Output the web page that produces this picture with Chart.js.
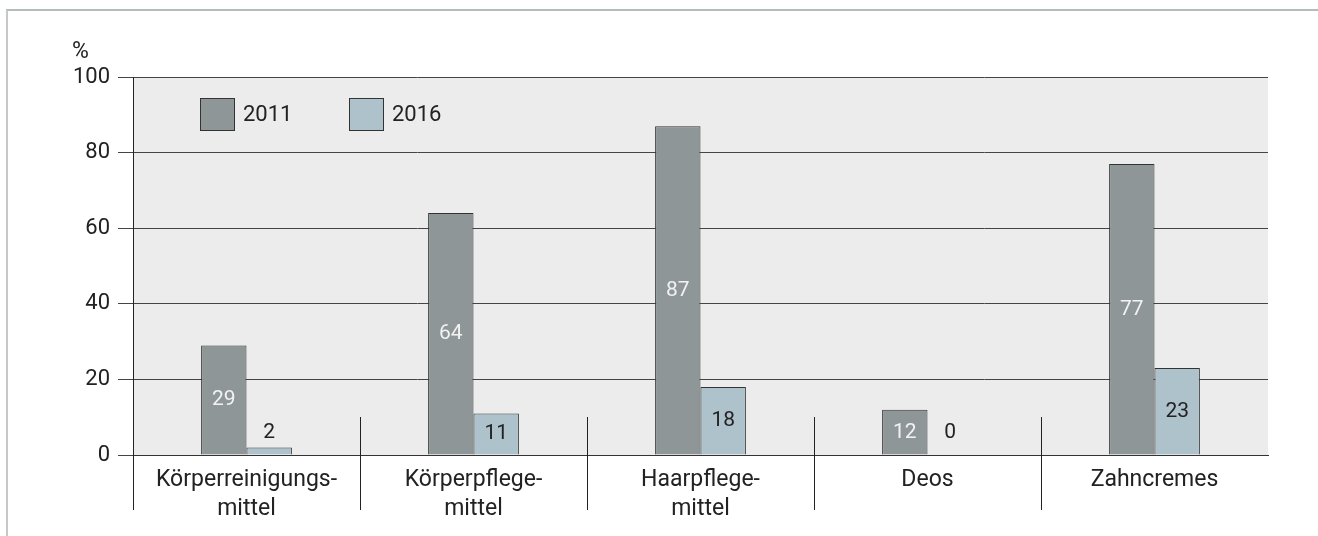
<!DOCTYPE html>
<html>
<head>
<meta charset="utf-8">
<script src="https://cdn.jsdelivr.net/npm/chart.js@4.4.1/dist/chart.umd.min.js"></script>
<style>
  html, body { margin:0; padding:0; background:#fff; }
  #wrap { position:relative; width:1318px; height:536px; overflow:hidden; }
  #frame { position:absolute; left:6px; top:9px; width:1400px; height:600px;
           border-left:2px solid #c6c9c9; border-top:2px solid #b4bbbb; }
  canvas { position:absolute; left:0; top:0; }
</style>
</head>
<body>
<div id="wrap">
  <div id="frame"></div>
  <canvas id="chart" width="1318" height="536"></canvas>
</div>
<script>
// data
const categories = [['Körperreinigungs-','mittel'], ['Körperpflege-','mittel'], ['Haarpflege-','mittel'], 'Deos', 'Zahncremes'];
const years = ['2011', '2016'];
const values2011 = [29, 64, 87, 12, 77];
const values2016 = [2, 11, 18, 0, 23];
const yTicks = [0, 20, 40, 60, 80, 100];
const unitLabel = '%';

const FONT = 'Roboto, "Helvetica Neue", Arial, sans-serif';
const colors = ['#8e9698', '#aec2cb'];
const labelColors = ['#f2f2f2', '#222'];

// grey plot background
const plotBg = {
  id:'plotBg',
  beforeDraw(chart){
    const {ctx, chartArea:a} = chart;
    ctx.save();
    ctx.fillStyle = '#ececec';
    ctx.fillRect(a.left, a.top, a.right - a.left, a.bottom - a.top);
    ctx.restore();
  }
};

// category separators, unit label, legend and value labels
const extras = {
  id:'extras',
  afterDraw(chart){
    const {ctx, chartArea:a, scales} = chart;
    const x = scales.x, y = scales.y;
    const step = x.getPixelForValue(1) - x.getPixelForValue(0);
    ctx.save();
    ctx.strokeStyle = '#222';
    ctx.lineWidth = 1;
    for(let i = 0; i < categories.length; i++){
      const px = Math.round(x.getPixelForValue(i) - step / 2) + 0.5;
      ctx.beginPath();
      ctx.moveTo(px, y.getPixelForValue(0) - 38);
      ctx.lineTo(px, y.getPixelForValue(0) + 55);
      ctx.stroke();
    }

    ctx.fillStyle = '#222';
    ctx.font = '23px ' + FONT;
    ctx.textAlign = 'left';
    ctx.textBaseline = 'middle';
    ctx.fillText(unitLabel, 72, 52);

    // legend
    years.forEach((yr, i) => {
      const bx = a.left + 67 + i * 149, by = a.top + 21;
      ctx.fillStyle = colors[i];
      ctx.fillRect(bx, by, 35, 33);
      ctx.strokeStyle = '#333';
      ctx.strokeRect(bx + 0.5, by + 0.5, 34, 32);
      ctx.fillStyle = '#222';
      ctx.font = '22px ' + FONT;
      ctx.fillText(yr, bx + 43, by + 17);
    });

    // value labels
    ctx.textAlign = 'center';
    ctx.font = '21px ' + FONT;
    chart.data.datasets.forEach((ds, di) => {
      chart.getDatasetMeta(di).data.forEach((bar, i) => {
        const v = ds.data[i];
        const base = y.getPixelForValue(0);
        if(v < 5){
          ctx.fillStyle = '#222';
          ctx.fillText(String(v), bar.x, base - 22);
        } else {
          ctx.fillStyle = labelColors[di];
          ctx.fillText(String(v), bar.x, (bar.y + base) / 2);
        }
      });
    });
    ctx.restore();
  }
};

new Chart(document.getElementById('chart'), {
  type:'bar',
  data:{
    labels: categories,
    datasets:[
      { label: years[0], data: values2011, backgroundColor: colors[0], borderColor:'#333', borderWidth:1 },
      { label: years[1], data: values2016, backgroundColor: colors[1], borderColor:'#333', borderWidth:1 }
    ]
  },
  options:{
    responsive:false,
    animation:false,
    layout:{ padding:{ top:77, right:50, left:0, bottom:0 } },
    plugins:{ legend:{display:false}, tooltip:{enabled:false} },
    datasets:{ bar:{ categoryPercentage:0.4, barPercentage:1 } },
    scales:{
      x:{
        grid:{ display:false },
        border:{ display:true, color:'#333', width:1 },
        ticks:{ color:'#222', font:{ family:FONT, size:23, lineHeight:1.25 }, padding:3, maxRotation:0, autoSkip:false },
        afterFit(s){ s.height = 81; }
      },
      y:{
        min:0, max:100,
        afterBuildTicks(s){ s.ticks = yTicks.map(v => ({ value:v })); },
        grid:{ color:'#444', lineWidth:1, tickLength:15, drawTicks:true },
        border:{ display:true, color:'#222', width:1 },
        ticks:{ color:'#222', font:{ family:FONT, size:22 }, padding:8 },
        afterFit(s){ s.width = 133; }
      }
    }
  },
  plugins:[plotBg, extras]
});
</script>
</body>
</html>
